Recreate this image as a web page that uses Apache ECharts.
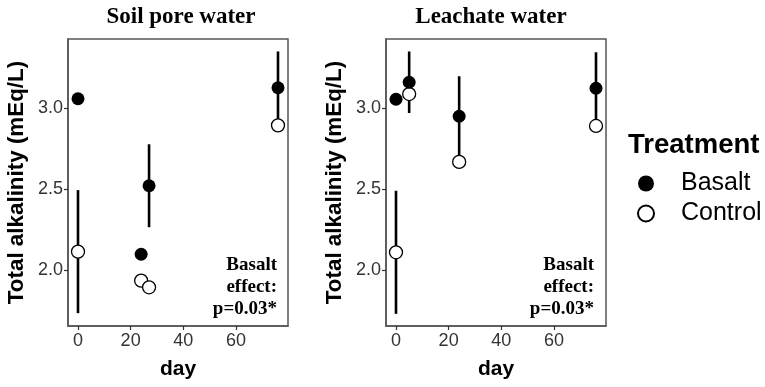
<!DOCTYPE html>
<html>
<head>
<meta charset="utf-8">
<script src="https://cdn.jsdelivr.net/npm/echarts@6/dist/echarts.min.js"></script>
<style>
html,body{margin:0;padding:0;background:#fff;}
#chart{width:765px;height:387px;}
</style>
</head>
<body>
<div id="chart"></div>
<script>
// ---- data ----
var panelTitles = ['Soil pore water', 'Leachate water'];
var soilDays = [0, 24, 27, 76];
var soilBasalt = [3.057, 2.097, 2.52, 3.125];
var soilBasaltErr = [0, 0, 0.256, 0.224];
var soilControl = [2.113, 1.934, 1.893, 2.893];
var soilControlErr = [0.38, 0, 0, 0];

var leachDays = [0, 5, 24, 76];
var leachBasalt = [3.054, 3.159, 2.949, 3.122];
var leachBasaltErr = [0, 0.19, 0.247, 0.222];
var leachControl = [2.109, 3.086, 2.667, 2.889];
var leachControlErr = [0.38, 0, 0, 0];

var xTicks = [0, 20, 40, 60];
var yTicks = [2.0, 2.5, 3.0];
var annotation = 'Basalt\neffect:\np=0.03*';

// ---- helpers ----
function pts(days, vals) {
  return days.map(function (d, i) { return [d, vals[i]]; });
}
function errs(days, vals, e) {
  var out = [];
  days.forEach(function (d, i) {
    if (e[i] > 0) out.push([d, vals[i] - e[i], vals[i] + e[i]]);
  });
  return out;
}
function errRender(params, api) {
  var p1 = api.coord([api.value(0), api.value(1)]);
  var p2 = api.coord([api.value(0), api.value(2)]);
  return {
    type: 'line',
    shape: { x1: p1[0], y1: p1[1], x2: p2[0], y2: p2[1] },
    style: { stroke: '#000', lineWidth: 2.6 }
  };
}

var sans = '"Liberation Sans", Arial, sans-serif';
var serif = '"Liberation Serif", "Times New Roman", serif';

var grids = [
  { left: 68, top: 39, width: 220, height: 287 },
  { left: 386, top: 39, width: 220, height: 287 }
];

function makeX(idx) {
  return {
    gridIndex: idx, type: 'value', min: -3.8, max: 79.8,
    name: 'day', nameLocation: 'middle', nameGap: 33,
    nameTextStyle: { fontFamily: sans, fontWeight: 'bold', fontSize: 21, color: '#000' },
    axisLine: { show: true, onZero: false, lineStyle: { color: '#555', width: 1.5 } },
    axisTick: { show: true, length: 4, customValues: xTicks, lineStyle: { color: '#333', width: 1.2 } },
    axisLabel: { customValues: xTicks, margin: 6, fontFamily: sans, fontSize: 18, color: '#333' },
    splitLine: { show: false }
  };
}
function makeY(idx) {
  return {
    gridIndex: idx, type: 'value', min: 1.654, max: 3.426,
    name: 'Total alkalinity (mEq/L)', nameLocation: 'middle', nameGap: 40,
    nameTextStyle: { fontFamily: sans, fontWeight: 'bold', fontSize: 22.4, color: '#000' },
    axisLine: { show: true, onZero: false, lineStyle: { color: '#555', width: 1.5 } },
    axisTick: { show: true, length: 4, customValues: yTicks, lineStyle: { color: '#333', width: 1.2 } },
    axisLabel: { customValues: yTicks, margin: 5, fontFamily: sans, fontSize: 18, color: '#333',
      formatter: function (v) { return v.toFixed(1); } },
    splitLine: { show: false }
  };
}

var basaltStyle = { color: '#000', opacity: 1 };
var controlStyle = { color: '#fff', borderColor: '#000', borderWidth: 1.3, opacity: 1 };

var series = [];
[[soilDays, soilBasalt, soilBasaltErr, soilControl, soilControlErr],
 [leachDays, leachBasalt, leachBasaltErr, leachControl, leachControlErr]].forEach(function (p, i) {
  series.push({ type: 'custom', name: 'errB' + i, xAxisIndex: i, yAxisIndex: i, renderItem: errRender,
    encode: { x: 0, y: [1, 2] }, data: errs(p[0], p[1], p[2]), z: 1, silent: true });
  series.push({ type: 'custom', name: 'errC' + i, xAxisIndex: i, yAxisIndex: i, renderItem: errRender,
    encode: { x: 0, y: [1, 2] }, data: errs(p[0], p[3], p[4]), z: 1, silent: true });
  series.push({ type: 'scatter', name: 'Control', xAxisIndex: i, yAxisIndex: i, symbol: 'circle',
    symbolSize: 13, itemStyle: controlStyle, data: pts(p[0], p[3]), z: 3 });
  series.push({ type: 'scatter', name: 'Basalt', xAxisIndex: i, yAxisIndex: i, symbol: 'circle',
    symbolSize: 13, itemStyle: basaltStyle, data: pts(p[0], p[1]), z: 4 });
});

var option = {
  backgroundColor: '#fff',
  animation: false,
  title: [
    { text: panelTitles[0], left: 176, top: 1, textAlign: 'center',
      textStyle: { fontFamily: serif, fontWeight: 'bold', fontSize: 23, color: '#000' } },
    { text: panelTitles[1], left: 486, top: 1, textAlign: 'center',
      textStyle: { fontFamily: serif, fontWeight: 'bold', fontSize: 23, color: '#000' } },
    { text: 'Treatment', left: 623, top: 126,
      textStyle: { fontFamily: sans, fontWeight: 'bold', fontSize: 27.5, color: '#000' } }
  ],
  legend: {
    data: ['Basalt', 'Control'],
    orient: 'vertical', left: 632, top: 166,
    itemWidth: 16, itemHeight: 16, itemGap: 5,
    textStyle: { fontFamily: sans, fontSize: 25, color: '#000', padding: [0, 0, 0, 22] }
  },
  grid: grids.map(function (g) {
    return Object.assign({ show: true, borderColor: '#555', borderWidth: 1.5, backgroundColor: 'transparent' }, g);
  }),
  xAxis: [makeX(0), makeX(1)],
  yAxis: [makeY(0), makeY(1)],
  graphic: [
    { type: 'text', x: 277, y: 254, z: 10,
      style: { text: annotation, textAlign: 'right', font: 'bold 19px ' + serif, lineHeight: 22, fill: '#000' } },
    { type: 'text', x: 594, y: 254, z: 10,
      style: { text: annotation, textAlign: 'right', font: 'bold 19px ' + serif, lineHeight: 22, fill: '#000' } }
  ],
  series: series
};

var chart = echarts.init(document.getElementById('chart'), null, { renderer: 'canvas' });
chart.setOption(option);
</script>
</body>
</html>
